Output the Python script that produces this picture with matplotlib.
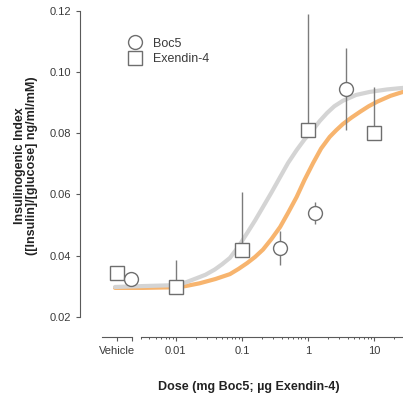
import matplotlib

matplotlib.use("Agg")
import matplotlib.pyplot as plt
from matplotlib.lines import Line2D
from matplotlib.ticker import FixedLocator, FormatStrFormatter, NullFormatter

plt.rcParams["font.family"] = ["Liberation Sans", "DejaVu Sans"]

# measured points
EX_DOSE = [0.01, 0.1, 1.0, 10.0]
EX_MEAN = [0.0298, 0.0419, 0.0810, 0.0800]
EX_ERR_UP = [0.0088, 0.0190, 0.0380, 0.0150]
EX_VEHICLE = 0.0343

BOC_DOSE = [0.38, 1.3, 3.8]
BOC_MEAN = [0.0425, 0.0539, 0.0944]
BOC_SEM = [0.0055, 0.0036, 0.0134]
BOC_VEHICLE = 0.0324

# fitted curves (log10 dose, index)
EX_FIT_LOGDOSE = [-2.92, -2.5, -2.0, -1.85, -1.68, -1.55, -1.41, -1.3, -1.18,
                  -1.05, -0.92, -0.8, -0.68, -0.55, -0.42, -0.3, -0.17, -0.05,
                  0.08, 0.18, 0.29, 0.4, 0.53, 0.73, 0.94, 1.2, 1.44]
EX_FIT_VALUE = [0.0298, 0.0301, 0.0304, 0.0313, 0.0327, 0.0338, 0.0355, 0.0372, 0.0393,
                0.0430, 0.0474, 0.0515, 0.0559, 0.0607, 0.0657, 0.0703, 0.0745, 0.0780,
                0.0812, 0.0840, 0.0866, 0.0888, 0.0906, 0.0925, 0.0935, 0.0943, 0.0948]
BOC_FIT_LOGDOSE = [-2.92, -2.5, -2.0, -1.85, -1.64, -1.4, -1.18, -1.05, -0.92,
                   -0.8, -0.68, -0.55, -0.42, -0.3, -0.17, -0.05, 0.08, 0.2,
                   0.33, 0.43, 0.53, 0.66, 0.79, 0.92, 1.05, 1.25, 1.44]
BOC_FIT_VALUE = [0.0295, 0.0295, 0.0297, 0.0301, 0.0310, 0.0324, 0.0340, 0.0357, 0.0376,
                 0.0396, 0.0420, 0.0455, 0.0494, 0.0540, 0.0592, 0.0648, 0.0703, 0.0750,
                 0.0788, 0.0810, 0.0830, 0.0851, 0.0870, 0.0888, 0.0903, 0.0922, 0.0935]

XTICKS = [0.01, 0.1, 1, 10]
XTICK_LABELS = ["0.01", "0.1", "1", "10"]
YTICKS = [0.02, 0.04, 0.06, 0.08, 0.10, 0.12]

ORANGE = "#f7b46e"
LIGHT = "#d4d4d4"
EDGE = "#6e6e6e"
BAR = "#7c7c7c"
AXIS = "#5a5a5a"
TXT = "#3a3a3a"

VEH_POS = 10 ** -2.89
XMIN, XMAX = 10 ** -3.45, 10 ** 1.44
OUT = 20 * 72 / 100  # x spine offset, px -> pt

fig = plt.figure(figsize=(4.03, 4.04), dpi=100)
rect = [80 / 403, 1 - 317 / 404, 323 / 403, 306.3 / 404]
ax = fig.add_axes(rect)
ax.set_xscale("log")
ax.set_xlim(XMIN, XMAX)
ax.set_ylim(0.02, 0.12)

ax.plot([10 ** v for v in BOC_FIT_LOGDOSE], BOC_FIT_VALUE, color=ORANGE,
        lw=3.0, solid_capstyle="round", solid_joinstyle="round", zorder=1)
ax.plot([10 ** v for v in EX_FIT_LOGDOSE], EX_FIT_VALUE, color=LIGHT,
        lw=3.0, solid_capstyle="round", solid_joinstyle="round", zorder=1.5)

ax.errorbar(EX_DOSE, EX_MEAN, yerr=[[0] * len(EX_MEAN), EX_ERR_UP], fmt="none",
            ecolor=BAR, elinewidth=1.0, capsize=0, zorder=2, clip_on=False)
ax.errorbar(BOC_DOSE, BOC_MEAN, yerr=BOC_SEM, fmt="none",
            ecolor=BAR, elinewidth=1.0, capsize=0, zorder=2, clip_on=False)

mk = dict(ls="none", mfc="white", mec=EDGE, mew=1.0, ms=10, zorder=3, clip_on=False)
ax.plot(EX_DOSE + [VEH_POS], EX_MEAN + [EX_VEHICLE], marker="s", **mk)
ax.plot(BOC_DOSE + [VEH_POS * 1.62], BOC_MEAN + [BOC_VEHICLE], marker="o", **mk)

for side in ("top", "right"):
    ax.spines[side].set_visible(False)
ax.spines["left"].set_color(AXIS)
ax.spines["left"].set_linewidth(0.8)
ax.spines["bottom"].set_color(AXIS)
ax.spines["bottom"].set_linewidth(0.8)
ax.spines["bottom"].set_position(("outward", OUT))
ax.spines["bottom"].set_bounds(0.003, XMAX)

ax.set_yticks(YTICKS)
ax.yaxis.set_major_formatter(FormatStrFormatter("%.2f"))
ax.set_xticks(XTICKS)
ax.set_xticklabels(XTICK_LABELS)
minors = [m * 10.0 ** e for e in range(-3, 2) for m in range(2, 10)]
minors = [v for v in minors if 0.003 <= v <= XMAX and v not in XTICKS]
ax.xaxis.set_minor_locator(FixedLocator(minors))
ax.xaxis.set_minor_formatter(NullFormatter())
ax.tick_params(axis="both", which="major", direction="out", length=3,
               width=0.8, color=AXIS, labelsize=8, labelcolor=TXT)
ax.tick_params(axis="x", which="minor", direction="out", length=1.6,
               width=0.7, color=AXIS)

# separate vehicle segment of the x axis
axv = fig.add_axes(rect)
axv.set_xscale("log")
axv.set_xlim(XMIN, XMAX)
axv.patch.set_visible(False)
for side in ("top", "right", "left"):
    axv.spines[side].set_visible(False)
axv.spines["bottom"].set_color(AXIS)
axv.spines["bottom"].set_linewidth(0.8)
axv.spines["bottom"].set_position(("outward", OUT))
axv.spines["bottom"].set_bounds(10 ** -3.12, 10 ** -2.67)
axv.set_yticks([])
axv.set_xticks([VEH_POS])
axv.set_xticklabels(["Vehicle"])
axv.xaxis.set_minor_locator(FixedLocator([10 ** -2.67]))
axv.xaxis.set_minor_formatter(NullFormatter())
axv.tick_params(axis="x", which="major", direction="out", length=3,
                width=0.8, color=AXIS, labelsize=8, labelcolor=TXT)
axv.tick_params(axis="x", which="minor", direction="out", length=3,
                width=0.8, color=AXIS)

handles = [
    Line2D([], [], marker="o", ls="none", mfc="white", mec=EDGE, mew=1.0, ms=10),
    Line2D([], [], marker="s", ls="none", mfc="white", mec=EDGE, mew=1.0, ms=10),
]
ax.legend(handles, ["Boc5", "Exendin-4"], loc="upper left",
          bbox_to_anchor=(0.151, 0.9125), frameon=False, fontsize=9,
          handlelength=1.0, handletextpad=0.94, labelspacing=0.3,
          borderpad=0, borderaxespad=0, labelcolor=TXT)

fig.text(249 / 403, 1 - 387 / 404, "Dose (mg Boc5; µg Exendin-4)",
         ha="center", va="center", fontsize=9, fontweight="bold", color="#222222")
fig.text(26 / 403, 1 - 166 / 404,
         "Insulinogenic Index\n([Insulin]/[glucose] ng/ml/mM)",
         ha="center", va="center", rotation=90, fontsize=9, fontweight="bold",
         linespacing=1.0, color="#222222")

fig.savefig("out.png", dpi=100, facecolor="white")
